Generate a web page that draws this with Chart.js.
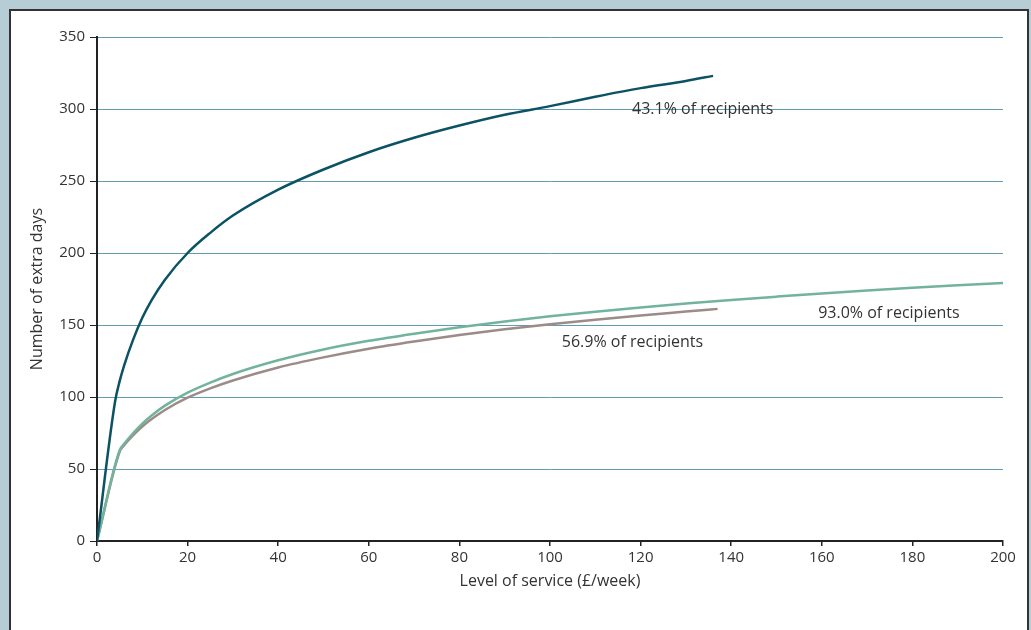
<!DOCTYPE html>
<html>
<head>
<meta charset="utf-8">
<script src="https://cdn.jsdelivr.net/npm/chart.js@4.4.1/dist/chart.umd.min.js"></script>
<style>
  html, body { margin: 0; padding: 0; }
  body { width: 1031px; height: 630px; background: #b7cdd6; position: relative; overflow: hidden; }
  #frame { position: absolute; left: 9px; top: 9px; width: 1016px; height: 640px; background: #fff; border: 2px solid #333; }
  #chart { position: absolute; left: 0; top: 0; }
</style>
</head>
<body>
<div id="frame"></div>
<canvas id="chart" width="1031" height="630"></canvas>
<script>
// 43.1% of recipients
const xTeal = [0, 4, 5, 6, 8, 10, 12, 15, 20, 25, 30, 40, 50, 60, 70, 80, 90, 100, 110, 120, 130, 136];
const yTeal = [0, 97, 111, 122, 140, 155, 167, 181.5, 200, 214, 226, 244, 258, 270, 280, 288.5, 296, 302, 308.5, 314.5, 319.5, 323];

// 93.0% of recipients
const xGreen = [0, 5, 6, 8, 10, 12, 15, 20, 25, 30, 40, 50, 60, 70, 80, 90, 100, 110, 120, 130, 140, 150, 160, 170, 180, 190, 200];
const yGreen = [0, 63, 67.5, 75, 81.5, 87, 94, 103, 110, 116, 125.5, 133, 139, 144, 148.5, 152.5, 156, 159.2, 162.2, 164.9, 167.4, 169.7, 171.9, 173.9, 175.8, 177.6, 179.2];

// 56.9% of recipients
const xBrown = [0, 5, 6, 8, 10, 12, 15, 20, 25, 30, 40, 50, 60, 70, 80, 90, 100, 110, 120, 130, 137];
const yBrown = [0, 62, 66.5, 73.5, 79.5, 84.5, 91, 99.5, 106, 111.5, 120.5, 127.5, 133.5, 138.5, 143, 147, 150.5, 153.7, 156.6, 159.3, 161.2];

const labelText = ['43.1% of recipients', '93.0% of recipients', '56.9% of recipients'];
const labelX = [118.1, 159.2, 102.6];
const labelY = [299.5, 158.3, 138.2];

function toPoints(xs, ys) {
    return xs.map((x, i) => ({ x: x, y: ys[i] }));
}

const recipientLabels = {
    id: 'recipientLabels',
    afterDatasetsDraw(chart) {
        const { ctx, scales: { x, y } } = chart;
        ctx.save();
        ctx.font = '16px "Open Sans"';
        ctx.fillStyle = '#333';
        ctx.textAlign = 'left';
        ctx.textBaseline = 'middle';
        labelText.forEach((t, i) => {
            ctx.fillText(t, x.getPixelForValue(labelX[i]), y.getPixelForValue(labelY[i]));
        });
        ctx.restore();
    }
};

const tickFont = { family: '"Open Sans"', size: 15 };
const titleFont = { family: '"Open Sans"', size: 16 };

new Chart(document.getElementById('chart'), {
    type: 'line',
    data: {
        datasets: [
            { data: toPoints(xTeal, yTeal), borderColor: '#0b5364', borderWidth: 2.5 },
            { data: toPoints(xGreen, yGreen), borderColor: '#72b39c', borderWidth: 2.5 },
            { data: toPoints(xBrown, yBrown), borderColor: '#9c8b86', borderWidth: 2.5 }
        ]
    },
    options: {
        responsive: false,
        animation: false,
        layout: { padding: { left: 0, top: 37, right: 28, bottom: 0 } },
        elements: { point: { radius: 0 }, line: { cubicInterpolationMode: 'monotone' } },
        plugins: {
            legend: { display: false },
            tooltip: { enabled: false }
        },
        scales: {
            x: {
                type: 'linear',
                min: 0,
                max: 200,
                afterFit: s => { s.height = 89; },
                border: { color: '#222', width: 2 },
                grid: { drawOnChartArea: false, tickColor: '#222', tickLength: 5, lineWidth: 1.5 },
                ticks: { stepSize: 20, color: '#333', font: tickFont, padding: 3, maxRotation: 0 },
                title: { display: true, text: 'Level of service (£/week)', color: '#333', font: titleFont, padding: { top: 0, bottom: 39 } }
            },
            y: {
                min: 0,
                max: 350,
                afterFit: s => { s.width = 97; },
                border: { color: '#222', width: 2 },
                grid: { color: '#5f9db3', lineWidth: 1, tickColor: '#222', tickLength: 7 },
                ticks: { stepSize: 50, color: '#333', font: tickFont, padding: 5 },
                title: { display: true, text: 'Number of extra days', color: '#333', font: titleFont, padding: { top: 28, bottom: 0 } }
            }
        }
    },
    plugins: [recipientLabels]
});
</script>
</body>
</html>
